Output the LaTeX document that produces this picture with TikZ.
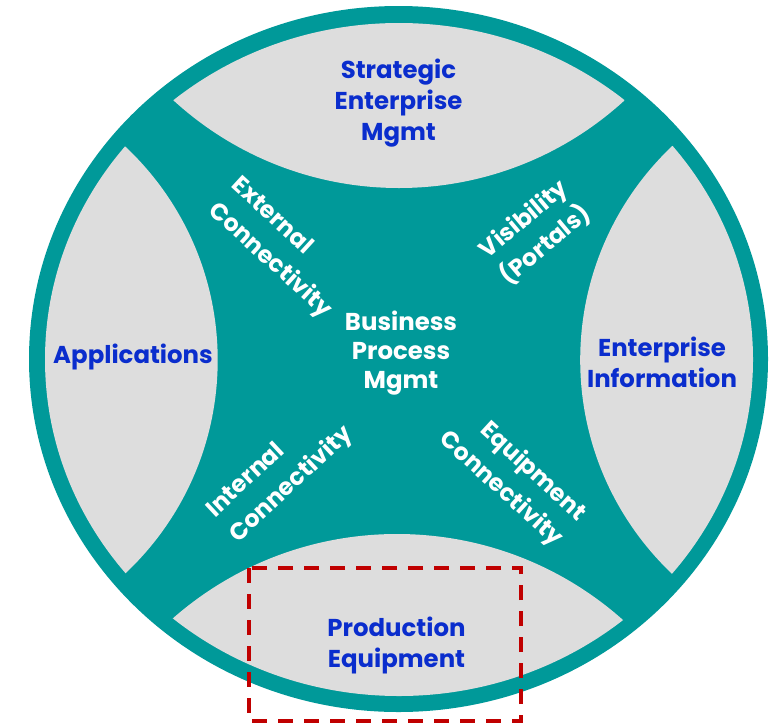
\documentclass[tikz,border=0pt]{standalone}
\usepackage{fontspec}
\setmainfont{Poppins}
\definecolor{ringteal}{RGB}{0,153,153}
\definecolor{lensgray}{RGB}{221,221,221}
\definecolor{labelblue}{RGB}{10,45,205}
\definecolor{markred}{RGB}{192,0,0}
\begin{document}
\begin{tikzpicture}[x=0.75pt,y=-0.75pt,
  outer/.style={font=\bfseries\fontsize{18.3}{23.3}\selectfont,text=labelblue,align=center,inner sep=0pt},
  inner/.style={font=\bfseries\fontsize{18.3}{21.8}\selectfont,text=white,inner sep=0pt},
  arm/.style={font=\bfseries\fontsize{17.8}{25.5}\selectfont,text=white,inner sep=0pt},
  focus/.style={draw=markred,line width=3pt,dash pattern=on 11.25pt off 8.25pt}]
\useasboundingbox (0,0) rectangle (780,725);
% teal disc with the ring
\fill[ringteal] (398.5,359) ellipse[x radius=369.5,y radius=353];
% four grey lenses cut out of the inner area
\begin{scope}
  \clip (399,359.5) ellipse[x radius=354,y radius=336.5];
  \fill[lensgray] (399,-146) circle[radius=334];
  \fill[lensgray] (397,874) circle[radius=340];
  \fill[lensgray] (-75,360) circle[radius=292.7];
  \fill[lensgray] (875,360) circle[radius=294.8];
\end{scope}
% outer domains
\node[outer] (strategic) at (398.5,103) {Strategic\\Enterprise\\Mgmt};
\node[outer] (apps) at (133,357) {Applications};
\node[outer] (entinfo) at (662,362) {Enterprise\\Information};
\node[outer] (prodeq) at (396.5,645) {Production\\Equipment};
% hub
\node[inner,align=center] (bpm) at (401,353) {Business\\Process\\Mgmt};
% arms of the cross
\node[arm,align=left,rotate=-42.5] (extconn) at (281,248.5) {External\\Connectivity};
\node[arm,align=center,rotate=40] (visib) at (535,232.5) {Visibility\\(Portals)};
\node[arm,align=left,rotate=43] (intconn) at (280.3,472.8) {Internal\\Connectivity};
\node[arm,align=right,rotate=-42.5] (eqconn) at (512.3,476.7) {Equipment\\Connectivity};
% highlighted area
\draw[focus] (249,568) rectangle (521,721);
\end{tikzpicture}
\end{document}
